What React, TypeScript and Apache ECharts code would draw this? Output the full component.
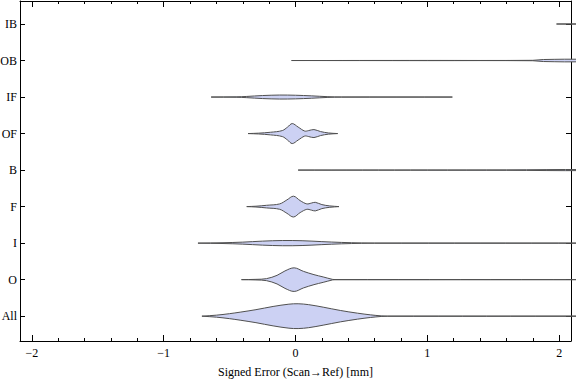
import React, { useEffect, useRef } from "react";
import * as echarts from "echarts";

// Categories, bottom to top
const categories = ["All", "O", "I", "F", "B", "OF", "IF", "OB", "IB"];

// Density profiles: [x (mm), relative half-width]
const profAll = [[-0.71, 0], [-0.6, 1], [-0.5, 2.5], [-0.42, 4], [-0.3, 6.5], [-0.17, 9.7], [-0.05, 12], [0.02, 12.4], [0.1, 11.5], [0.21, 9], [0.34, 5.7], [0.47, 3], [0.57, 1.3], [0.65, 0.3], [0.7, 0], [2.2, 0]];
const profO = [[-0.41, 0], [-0.3, 0.3], [-0.22, 1], [-0.14, 4.3], [-0.08, 8.7], [-0.01, 11.8], [0.06, 8.3], [0.14, 5], [0.21, 2.7], [0.28, 0.3], [0.3, 0], [2.2, 0]];
const profI = [[-0.74, 0], [-0.55, 0.4], [-0.4, 1], [-0.25, 2], [-0.1, 2.6], [0.05, 2.4], [0.2, 1.5], [0.35, 0.7], [0.5, 0.2], [0.6, 0], [2.2, 0]];
const profF = [[-0.37, 0], [-0.3, 0.4], [-0.22, 1.3], [-0.12, 2.7], [-0.065, 6.7], [-0.015, 10.4], [0.035, 6], [0.086, 2.7], [0.12, 3.5], [0.15, 4.3], [0.2, 2], [0.26, 0.7], [0.33, 0]];
const profB = [[0.02, 0], [1.0, 0.1], [1.6, 0.2], [2.2, 0.5]];
const profOF = [[-0.36, 0], [-0.28, 0.4], [-0.19, 1.3], [-0.1, 3], [-0.06, 6.5], [-0.025, 10], [0.02, 6.5], [0.07, 2.5], [0.1, 3], [0.14, 4], [0.19, 2], [0.25, 0.6], [0.32, 0]];
const profIF = [[-0.64, 0], [-0.45, 0.2], [-0.37, 0.6], [-0.25, 1.5], [-0.12, 2], [0, 1.8], [0.12, 1.2], [0.24, 0.4], [0.35, 0], [1.19, 0]];
const profOB = [[-0.03, 0], [1.0, 0.1], [1.8, 0.2], [1.88, 1], [2.2, 1]];
const profIB = [[1.98, 0], [2.2, 0]];

const profiles = [profAll, profO, profI, profF, profB, profOF, profIF, profOB, profIB];

const xMajorTicks = [-2, -1, 0, 1, 2];
const xMinorTicks = [-1.8, -1.6, -1.4, -1.2, -0.8, -0.6, -0.4, -0.2, 0.2, 0.4, 0.6, 0.8, 1.2, 1.4, 1.6, 1.8];
const yTicks = [1, 2, 3, 4, 5, 6, 7, 8, 9];

const X_MIN = -2.09;
const X_MAX = 2.09;
const Y_MIN = 0.32;
const Y_MAX = 9.63;
const WIDTH_SCALE = 1 / 36.5;

const FONT = "'Liberation Serif', 'Times New Roman', serif";

export default function App() {
  const ref = useRef<HTMLDivElement>(null);
  useEffect(() => {
    if (!ref.current) return;
    const chart = echarts.init(ref.current, undefined, { renderer: "svg" });
    const fmtX = (v: number) => (v < 0 ? "\u2212" + Math.abs(v) : String(v));
    const baseX = {
      type: "value",
      min: X_MIN,
      max: X_MAX,
      splitLine: { show: false },
    };
    const baseY = {
      type: "value",
      min: Y_MIN,
      max: Y_MAX,
      splitLine: { show: false },
    };
    const line = { show: true, onZero: false, lineStyle: { color: "#000", width: 1 } };
    const option: any = {
      animation: false,
      grid: { left: 20, right: 5, top: 1, bottom: 40, outerBoundsMode: "none", containLabel: false },
      xAxis: [
        {
          ...baseX,
          position: "bottom",
          axisLine: line,
          axisTick: { show: true, inside: true, length: 6, customValues: xMajorTicks, lineStyle: { color: "#000" } },
          axisLabel: { show: true, customValues: xMajorTicks, formatter: fmtX, color: "#000", fontFamily: FONT, fontSize: 12, margin: 6 },
          name: "Signed Error (Scan\u2192Ref) [mm]",
          nameLocation: "middle",
          nameGap: 25,
          nameTextStyle: { color: "#000", fontFamily: FONT, fontSize: 12 },
        },
        {
          ...baseX,
          position: "bottom",
          axisLine: { show: false, onZero: false },
          axisTick: { show: true, inside: true, length: 3, customValues: xMinorTicks, lineStyle: { color: "#000" } },
          axisLabel: { show: false },
        },
        {
          ...baseX,
          position: "top",
          axisLine: line,
          axisTick: { show: true, inside: true, length: 6, customValues: xMajorTicks, lineStyle: { color: "#000" } },
          axisLabel: { show: false },
        },
        {
          ...baseX,
          position: "top",
          axisLine: { show: false, onZero: false },
          axisTick: { show: true, inside: true, length: 3, customValues: xMinorTicks, lineStyle: { color: "#000" } },
          axisLabel: { show: false },
        },
      ],
      yAxis: [
        {
          ...baseY,
          position: "left",
          axisLine: line,
          axisTick: { show: true, inside: true, length: 5, customValues: yTicks, lineStyle: { color: "#000" } },
          axisLabel: {
            show: true,
            customValues: yTicks,
            formatter: (v: number) => categories[Math.round(v) - 1] ?? "",
            color: "#000",
            fontFamily: FONT,
            fontSize: 12,
            margin: 3,
          },
        },
        {
          ...baseY,
          position: "right",
          axisLine: line,
          axisTick: { show: true, inside: true, length: 5, customValues: yTicks, lineStyle: { color: "#000" } },
          axisLabel: { show: false },
        },
      ],
      series: [
        {
          type: "custom",
          xAxisIndex: 0,
          yAxisIndex: 0,
          clip: false,
          data: categories.map((_, i) => [0, i + 1]),
          renderItem: (params: any, api: any) => {
            const idx = params.dataIndex;
            const yc = idx + 1;
            const prof = profiles[idx];
            const top = prof.map(([x, d]) => api.coord([x, yc + d * WIDTH_SCALE]));
            const bottom = prof
              .slice()
              .reverse()
              .map(([x, d]) => api.coord([x, yc - d * WIDTH_SCALE]));
            return {
              type: "polygon",
              shape: { points: top.concat(bottom), smooth: 0.35 },
              style: {
                fill: "#ccd1f3",
                stroke: "#505050",
                lineWidth: 1,
                opacity: 1,
              },
            };
          },
        },
      ],
    };
    chart.setOption(option);
    return () => chart.dispose();
  }, []);
  return (
    <div
      ref={ref}
      style={{ position: "fixed", left: 0, top: 0, width: 576, height: 381, background: "#fff" }}
    />
  );
}
